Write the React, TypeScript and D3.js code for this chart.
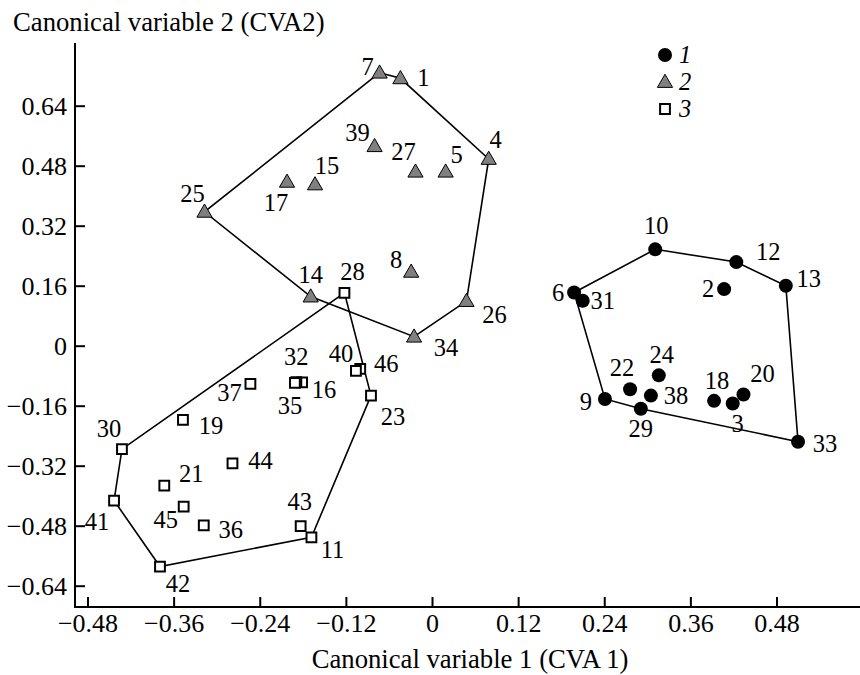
import React, { useEffect, useRef } from "react";
import * as d3 from "d3";

// group 1 (filled circles)
const group1 = [
  { id: 10, x: 0.311, y: 0.257 },
  { id: 12, x: 0.424, y: 0.223 },
  { id: 13, x: 0.493, y: 0.16 },
  { id: 2, x: 0.407, y: 0.151 },
  { id: 6, x: 0.198, y: 0.142 },
  { id: 31, x: 0.21, y: 0.12 },
  { id: 9, x: 0.241, y: -0.142 },
  { id: 22, x: 0.276, y: -0.116 },
  { id: 24, x: 0.316, y: -0.079 },
  { id: 38, x: 0.305, y: -0.133 },
  { id: 29, x: 0.291, y: -0.168 },
  { id: 18, x: 0.393, y: -0.147 },
  { id: 3, x: 0.419, y: -0.154 },
  { id: 20, x: 0.434, y: -0.13 },
  { id: 33, x: 0.51, y: -0.256 },
];

// group 2 (grey triangles)
const group2 = [
  { id: 7, x: -0.073, y: 0.728 },
  { id: 1, x: -0.044, y: 0.713 },
  { id: 4, x: 0.079, y: 0.498 },
  { id: 5, x: 0.019, y: 0.464 },
  { id: 27, x: -0.023, y: 0.464 },
  { id: 39, x: -0.08, y: 0.532 },
  { id: 15, x: -0.163, y: 0.43 },
  { id: 17, x: -0.202, y: 0.437 },
  { id: 25, x: -0.317, y: 0.357 },
  { id: 8, x: -0.029, y: 0.197 },
  { id: 14, x: -0.169, y: 0.131 },
  { id: 26, x: 0.048, y: 0.119 },
  { id: 34, x: -0.025, y: 0.024 },
];

// group 3 (open squares)
const group3 = [
  { id: 28, x: -0.122, y: 0.141 },
  { id: 30, x: -0.432, y: -0.276 },
  { id: 41, x: -0.443, y: -0.413 },
  { id: 42, x: -0.379, y: -0.589 },
  { id: 11, x: -0.168, y: -0.511 },
  { id: 43, x: -0.183, y: -0.481 },
  { id: 23, x: -0.085, y: -0.133 },
  { id: 46, x: -0.1, y: -0.062 },
  { id: 40, x: -0.106, y: -0.067 },
  { id: 16, x: -0.181, y: -0.098 },
  { id: 32, x: -0.189, y: -0.097 },
  { id: 35, x: -0.191, y: -0.099 },
  { id: 37, x: -0.253, y: -0.102 },
  { id: 19, x: -0.347, y: -0.198 },
  { id: 44, x: -0.278, y: -0.314 },
  { id: 21, x: -0.373, y: -0.373 },
  { id: 45, x: -0.346, y: -0.429 },
  { id: 36, x: -0.318, y: -0.479 },
];

// convex hull vertex order per group
const hull1 = [6, 10, 12, 13, 33, 29, 9];
const hull2 = [7, 1, 4, 26, 34, 14, 25];
const hull3 = [28, 23, 11, 42, 41, 30];

const xTicks = [-0.48, -0.36, -0.24, -0.12, 0, 0.12, 0.24, 0.36, 0.48];
const yTicks = [-0.64, -0.48, -0.32, -0.16, 0, 0.16, 0.32, 0.48, 0.64];
const legendLabels = ["1", "2", "3"];

const xTitle = "Canonical variable 1 (CVA 1)";
const yTitle = "Canonical variable 2 (CVA2)";

// label placement (px offset of label centre from marker)
const labelOffsets: Record<number, [number, number]> = {
  10: [1, -23], 12: [32, -10], 13: [23, -7], 2: [-16, 0], 6: [-16, 0],
  31: [20, 0], 9: [-19, 3], 22: [-8, -21], 24: [3, -20], 38: [25, 0],
  29: [0, 20], 18: [3, -20], 3: [5, 20], 20: [19, -21], 33: [27, 2],
  7: [-12, -6], 1: [23, 0], 4: [7, -19], 5: [11, -17], 27: [-12, -20],
  39: [-17, -13], 15: [12, -19], 17: [-11, 21], 25: [-12, -18], 8: [-15, -12],
  14: [0, -22], 26: [28, 14], 34: [32, 11],
  28: [8, -21], 30: [-13, -20], 41: [-17, 21], 42: [18, 17], 11: [21, 13],
  43: [-1, -24], 23: [22, 21], 46: [26, -5], 40: [-15, -17], 32: [0, -25],
  16: [22, 7], 35: [-5, 23], 37: [-21, 9], 19: [28, 6], 44: [28, -3],
  21: [27, -12], 45: [-18, 13], 36: [27, 5],
};

const App = () => {
  const ref = useRef<SVGSVGElement>(null);
  const width = 860;
  const height = 675;

  useEffect(() => {
    const font = "'Liberation Serif', 'Times New Roman', serif";
    const fsLabel = 24.5;
    const fsTick = 26;
    const fsTitle = 26.7;
    const frame = { left: 75, right: 860, top: 43, bottom: 607 };

    const x = d3.scaleLinear().domain([-0.48, 0.48]).range([87.5, 776.5]);
    const y = d3.scaleLinear().domain([-0.64, 0.64]).range([585.7, 105.7]);

    const svg = d3.select(ref.current);
    svg.selectAll("*").remove();
    svg.attr("width", width).attr("height", height);

    const fmt = (v: number) => (v === 0 ? "0" : d3.format(".2f")(v));

    // axes
    const gx = svg
      .append("g")
      .attr("transform", `translate(0,${frame.bottom})`)
      .call(d3.axisBottom(x).tickValues(xTicks).tickSize(-10).tickPadding(6.5).tickFormat(fmt as any));
    const gy = svg
      .append("g")
      .attr("transform", `translate(${frame.left},0)`)
      .call(d3.axisLeft(y).tickValues(yTicks).tickSize(-10).tickPadding(8).tickFormat(fmt as any));
    [gx, gy].forEach((g) => {
      g.select(".domain").remove();
      g.selectAll("line").attr("stroke", "#000").attr("stroke-width", 2);
      g.selectAll("text").attr("font-family", font).attr("font-size", fsTick).attr("fill", "#000");
    });
    svg.append("line")
      .attr("x1", frame.left).attr("x2", frame.right)
      .attr("y1", frame.bottom).attr("y2", frame.bottom)
      .attr("stroke", "#000").attr("stroke-width", 2);
    svg.append("line")
      .attr("x1", frame.left).attr("x2", frame.left)
      .attr("y1", frame.top).attr("y2", frame.bottom + 1)
      .attr("stroke", "#000").attr("stroke-width", 2);

    svg.append("text")
      .attr("x", 470).attr("y", 668)
      .attr("text-anchor", "middle")
      .attr("font-family", font).attr("font-size", fsTitle)
      .text(xTitle);
    svg.append("text")
      .attr("x", 13).attr("y", 31)
      .attr("font-family", font).attr("font-size", fsTitle)
      .text(yTitle);

    // hull outlines
    const line = d3.line<{ x: number; y: number }>().x((d) => x(d.x)).y((d) => y(d.y)).curve(d3.curveLinearClosed);
    const hulls: [typeof group1, number[]][] = [
      [group1, hull1],
      [group2, hull2],
      [group3, hull3],
    ];
    hulls.forEach(([data, order]) => {
      const pts = order.map((id) => data.find((d) => d.id === id)!);
      svg.append("path")
        .attr("d", line(pts))
        .attr("fill", "none")
        .attr("stroke", "#000")
        .attr("stroke-width", 1.6);
    });

    const tri = d3.symbol().type(d3.symbolTriangle).size(100);
    const sq = d3.symbol().type(d3.symbolSquare).size(96);

    // markers
    svg.append("g").selectAll("path").data(group2).enter().append("path")
      .attr("d", tri as any)
      .attr("transform", (d) => `translate(${x(d.x)},${y(d.y) + 1})`)
      .attr("fill", "#808080").attr("stroke", "#000").attr("stroke-width", 1);
    svg.append("g").selectAll("circle").data(group1).enter().append("circle")
      .attr("cx", (d) => x(d.x)).attr("cy", (d) => y(d.y)).attr("r", 7)
      .attr("fill", "#000");
    svg.append("g").selectAll("path").data(group3).enter().append("path")
      .attr("d", sq as any)
      .attr("transform", (d) => `translate(${x(d.x)},${y(d.y)})`)
      .attr("fill", "#fff").attr("stroke", "#000").attr("stroke-width", 2);

    // point labels
    const all = [...group1, ...group2, ...group3];
    svg.append("g").selectAll("text").data(all).enter().append("text")
      .attr("x", (d) => x(d.x) + (labelOffsets[d.id] || [0, 0])[0])
      .attr("y", (d) => y(d.y) + (labelOffsets[d.id] || [0, 0])[1])
      .attr("dy", "0.33em")
      .attr("text-anchor", "middle")
      .attr("font-family", font).attr("font-size", fsLabel)
      .text((d) => d.id);

    // legend
    const lg = svg.append("g").attr("transform", "translate(665,55)");
    legendLabels.forEach((lab, i) => {
      const row = lg.append("g").attr("transform", `translate(0,${i * 27})`);
      if (i === 0) row.append("circle").attr("r", 7).attr("fill", "#000");
      if (i === 1) row.append("path").attr("d", tri as any).attr("transform", "translate(0,1)")
        .attr("fill", "#808080").attr("stroke", "#000").attr("stroke-width", 1);
      if (i === 2) row.append("path").attr("d", sq as any)
        .attr("fill", "#fff").attr("stroke", "#000").attr("stroke-width", 2);
      row.append("text")
        .attr("x", 14).attr("y", 0).attr("dy", "0.33em")
        .attr("font-family", font).attr("font-size", fsLabel).attr("font-style", "italic")
        .text(lab);
    });
  }, []);

  return (
    <div style={{ position: "absolute", left: 0, top: 0 }}>
      <svg ref={ref} style={{ display: "block" }}></svg>
    </div>
  );
};

export default App;
